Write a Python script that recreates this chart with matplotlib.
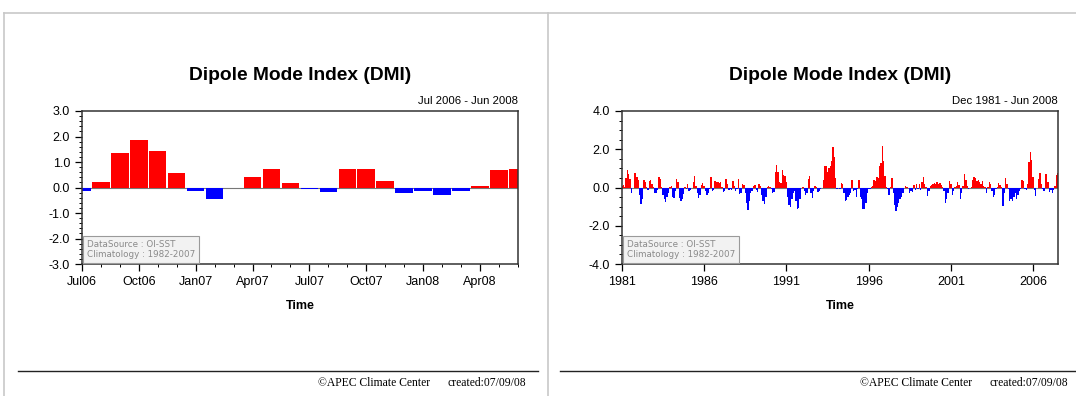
import matplotlib
matplotlib.use("Agg")
import matplotlib.pyplot as plt
from matplotlib.ticker import MultipleLocator
from matplotlib.lines import Line2D
import numpy as np

plt.rcParams['font.family'] = ['Liberation Sans', 'DejaVu Sans']

# recent 24 months, Jul 2006 - Jun 2008
recent_months = ["Jul06", "Aug06", "Sep06", "Oct06", "Nov06", "Dec06",
                 "Jan07", "Feb07", "Mar07", "Apr07", "May07", "Jun07",
                 "Jul07", "Aug07", "Sep07", "Oct07", "Nov07", "Dec07",
                 "Jan08", "Feb08", "Mar08", "Apr08", "May08", "Jun08"]
recent_dmi = [-0.12, 0.20, 1.34, 1.86, 1.45, 0.56,
              -0.12, -0.47, 0.00, 0.42, 0.74, 0.17,
              -0.06, -0.17, 0.73, 0.72, 0.27, -0.22,
              -0.12, -0.31, -0.13, 0.06, 0.67, 0.74]
recent_ticks = ["Jul06", "Oct06", "Jan07", "Apr07", "Jul07", "Oct07", "Jan08", "Apr08"]

# full record, Dec 1981 - Jun 2008 (monthly)
dmi_dec1981 = [0.10]
dmi_1982 = [0.15, 0.05, 0.50, 0.90, 0.70, 0.45, -0.30, -0.05, 0.75, 0.75, 0.55, 0.40]
dmi_1983 = [-0.40, -0.85, -0.60, 0.40, 0.30, 0.05, -0.15, 0.35, 0.40, 0.20, 0.05, -0.30]
dmi_1984 = [-0.30, -0.15, 0.55, 0.45, 0.05, -0.40, -0.60, -0.75, -0.50, -0.30, 0.05, 0.10]
dmi_1985 = [-0.50, -0.55, -0.20, 0.45, 0.30, -0.55, -0.70, -0.60, -0.35, 0.05, -0.10, 0.20]
dmi_1986 = [-0.20, -0.15, -0.05, 0.30, 0.60, 0.10, -0.30, -0.55, -0.40, 0.15, 0.25, 0.10]
dmi_1987 = [-0.20, -0.40, -0.30, -0.10, 0.55, -0.20, -0.15, 0.35, 0.30, 0.30, 0.25, 0.30]
dmi_1988 = [0.05, -0.25, -0.20, 0.45, 0.20, -0.15, -0.10, -0.15, 0.35, 0.10, -0.20, -0.10]
dmi_1989 = [0.45, -0.35, -0.30, 0.20, 0.15, -0.30, -0.80, -1.20, -0.70, -0.30, -0.20, 0.10]
dmi_1990 = [0.15, -0.15, -0.25, 0.20, 0.10, -0.40, -0.70, -0.85, -0.50, 0.05, 0.10, 0.05]
dmi_1991 = [-0.10, -0.30, -0.25, 0.80, 1.20, 0.80, 0.30, 0.25, 0.90, 0.65, 0.60, 0.30]
dmi_1992 = [-0.50, -0.90, -1.00, -0.60, -0.30, -0.20, -0.70, -1.10, -1.05, -0.60, -0.05, 0.05]
dmi_1993 = [-0.20, -0.40, -0.30, 0.45, 0.60, -0.30, -0.55, -0.20, 0.10, 0.05, -0.25, -0.20]
dmi_1994 = [-0.10, -0.05, 0.40, 1.10, 1.15, 0.80, 1.00, 1.10, 1.40, 2.10, 1.60, 0.50]
dmi_1995 = [-0.10, -0.05, -0.10, 0.25, 0.20, -0.30, -0.70, -0.65, -0.50, -0.40, -0.30, 0.40]
dmi_1996 = [-0.20, -0.15, -0.50, -0.10, 0.40, -0.50, -0.60, -1.10, -1.10, -0.80, -0.30, -0.10]
dmi_1997 = [-0.10, 0.05, 0.10, 0.40, 0.35, 0.55, 0.50, 1.10, 1.30, 2.15, 1.40, 0.60]
dmi_1998 = [0.05, -0.10, -0.40, 0.05, 0.50, -0.30, -0.90, -1.25, -1.00, -0.80, -0.60, -0.50]
dmi_1999 = [-0.30, -0.05, 0.10, 0.05, -0.05, -0.30, -0.20, -0.25, 0.15, -0.15, 0.20, -0.10]
dmi_2000 = [0.20, -0.15, 0.30, 0.55, 0.20, 0.05, -0.45, -0.20, 0.10, 0.15, 0.20, 0.25]
dmi_2001 = [0.20, 0.30, 0.20, 0.25, 0.15, 0.05, -0.20, -0.80, -0.60, -0.30, 0.35, 0.20]
dmi_2002 = [-0.40, -0.20, 0.05, 0.10, 0.30, 0.15, -0.60, -0.30, 0.10, 0.70, 0.40, 0.10]
dmi_2003 = [-0.10, -0.05, 0.05, 0.40, 0.55, 0.50, 0.35, 0.40, 0.30, 0.20, 0.35, 0.10]
dmi_2004 = [0.05, -0.30, 0.05, 0.30, 0.20, -0.20, -0.50, -0.40, -0.10, 0.05, 0.25, 0.15]
dmi_2005 = [0.05, -0.95, -0.30, 0.50, 0.20, -0.10, -0.70, -0.60, -0.70, -0.50, -0.30, -0.60]
dmi_2006_h1 = [-0.40, -0.20, -0.10, 0.40, 0.35, -0.10]

long_dmi = (dmi_dec1981 + dmi_1982 + dmi_1983 + dmi_1984 + dmi_1985 + dmi_1986
            + dmi_1987 + dmi_1988 + dmi_1989 + dmi_1990 + dmi_1991 + dmi_1992
            + dmi_1993 + dmi_1994 + dmi_1995 + dmi_1996 + dmi_1997 + dmi_1998
            + dmi_1999 + dmi_2000 + dmi_2001 + dmi_2002 + dmi_2003 + dmi_2004
            + dmi_2005 + dmi_2006_h1 + recent_dmi)
long_ticks = ["1981", "1986", "1991", "1996", "2001", "2006"]

RED = "#ff0000"
BLUE = "#0000ff"


def bar_colors(vals):
    return [RED if v >= 0 else BLUE for v in vals]


def source_box(ax):
    ax.text(0.012, 0.035, "DataSource : OI-SST\nClimatology : 1982-2007",
            transform=ax.transAxes, fontsize=6.3, color="#8a8a8a",
            family=["DejaVu Sans"], linespacing=1.1, va="bottom", ha="left",
            bbox=dict(boxstyle="square,pad=0.45", fc="#f2f2f2", ec="#9a9a9a", lw=0.8))


def style_axes(ax):
    for s in ax.spines.values():
        s.set_linewidth(1.1)
        s.set_color("#333333")
    ax.tick_params(axis="both", which="major", direction="out", length=5,
                   width=0.9, labelsize=9, right=False, top=False)
    ax.tick_params(axis="both", which="minor", direction="out", length=2.5,
                   width=0.7, right=False, top=False)
    ax.axhline(0, color="#777777", lw=0.8, zorder=1)


fig = plt.figure(figsize=(10.76, 3.96), dpi=100)

# left: last two years
ax1 = fig.add_axes([0.0762, 0.3333, 0.405, 0.3864])
x1 = np.arange(len(recent_dmi))
ax1.bar(x1, recent_dmi, width=0.92, color=bar_colors(recent_dmi), zorder=2)
ax1.set_xlim(0, len(recent_dmi) - 1)
ax1.set_ylim(-3, 3)
ax1.set_yticks(np.arange(-3, 3.01, 1.0))
ax1.set_yticklabels([f"{v:.1f}" for v in np.arange(-3, 3.01, 1.0)])
ax1.yaxis.set_minor_locator(MultipleLocator(0.2))
ax1.set_xticks([recent_months.index(m) for m in recent_ticks])
ax1.set_xticklabels(recent_ticks)
ax1.set_xticks(x1, minor=True)
style_axes(ax1)
ax1.set_xlabel("Time", fontsize=9, fontweight="bold", labelpad=9)
ax1.set_title("Dipole Mode Index (DMI)", fontsize=13.8, fontweight="bold", pad=22)
ax1.text(1.0, 1.03, "Jul 2006 - Jun 2008", transform=ax1.transAxes,
         ha="right", va="bottom", fontsize=8.2)
source_box(ax1)

# right: whole record
ax2 = fig.add_axes([0.578, 0.3333, 0.405, 0.3864])
x2 = np.arange(len(long_dmi))
ax2.bar(x2, long_dmi, width=1.0, color=bar_colors(long_dmi), lw=0, zorder=2)
ax2.set_xlim(0, len(long_dmi) - 1)
ax2.set_ylim(-4, 4)
ax2.set_yticks(np.arange(-4, 4.01, 2.0))
ax2.set_yticklabels([f"{v:.1f}" for v in np.arange(-4, 4.01, 2.0)])
ax2.yaxis.set_minor_locator(MultipleLocator(0.5))
ax2.set_xticks(np.arange(0, len(long_dmi), 60))
ax2.set_xticklabels(long_ticks)
style_axes(ax2)
ax2.set_xlabel("Time", fontsize=9, fontweight="bold", labelpad=9)
ax2.set_title("Dipole Mode Index (DMI)", fontsize=13.8, fontweight="bold", pad=22)
ax2.text(1.0, 1.03, "Dec 1981 - Jun 2008", transform=ax2.transAxes,
         ha="right", va="bottom", fontsize=8.2)
source_box(ax2)

# page frame and footer rules
gray = "#c8c8c8"
fig.add_artist(Line2D([4 / 1076, 1.0], [1 - 13 / 396] * 2, color=gray, lw=1.2))
fig.add_artist(Line2D([4 / 1076] * 2, [0, 1 - 13 / 396], color=gray, lw=1.2))
fig.add_artist(Line2D([548 / 1076] * 2, [0, 1 - 13 / 396], color=gray, lw=1.2))
fig.add_artist(Line2D([18 / 1076, 538 / 1076], [1 - 371 / 396] * 2, color="#222222", lw=1.0))
fig.add_artist(Line2D([560 / 1076, 1.0], [1 - 371 / 396] * 2, color="#222222", lw=1.0))

for left, right in [(318, 447), (860, 990)]:
    fig.text(left / 1076, 1 - 383 / 396, "\u00a9APEC Climate Center", fontsize=8.4,
             family=["Liberation Serif", "DejaVu Serif"], va="center", ha="left")
    fig.text(right / 1076, 1 - 383 / 396, "created:07/09/08", fontsize=8.4,
             family=["Liberation Serif", "DejaVu Serif"], va="center", ha="left")

fig.savefig("out.png", dpi=100)
